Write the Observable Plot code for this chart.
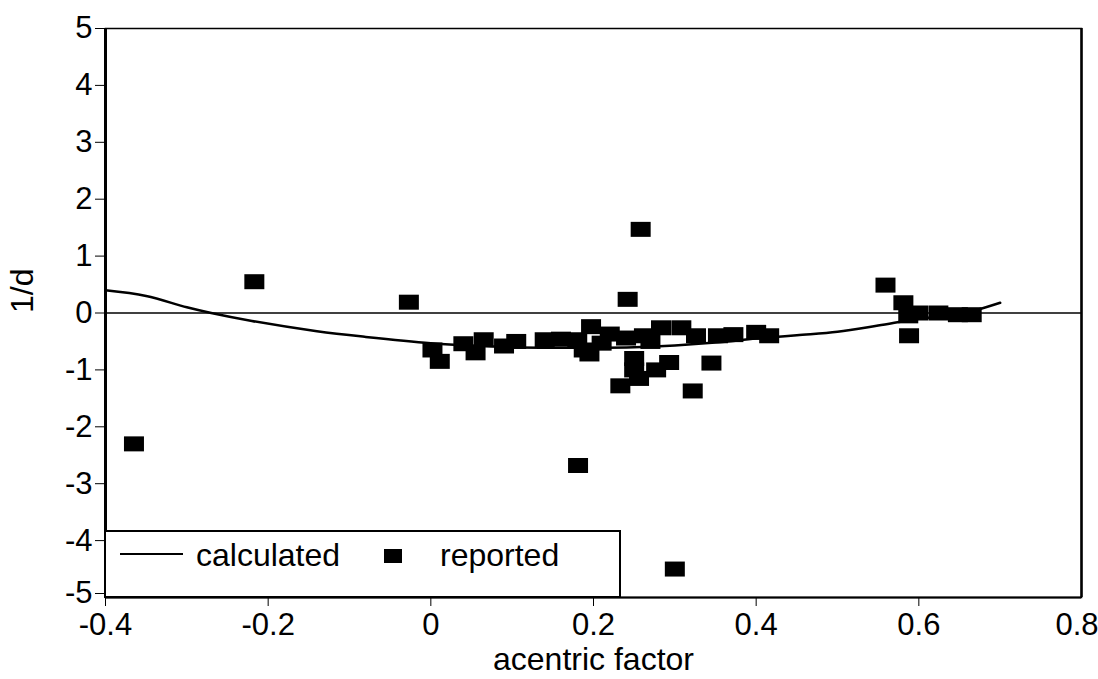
<!DOCTYPE html>
<html>
<head>
<meta charset="utf-8">
<script src="https://cdn.jsdelivr.net/npm/d3@7"></script>
<script src="https://cdn.jsdelivr.net/npm/@observablehq/plot@0.6"></script>
<style>
  html, body { margin: 0; padding: 0; background: #fff; }
  #chart { position: relative; width: 1098px; height: 679px; }
</style>
</head>
<body>
<div id="chart"></div>
<script>
// Data
const xTicks = [-0.4, -0.2, 0, 0.2, 0.4, 0.6, 0.8];
const yTicks = [-5, -4, -3, -2, -1, 0, 1, 2, 3, 4, 5];

const calcX = [-0.4, -0.35, -0.3, -0.27, -0.22, -0.14, -0.08, 0, 0.05, 0.1, 0.15, 0.2, 0.25, 0.3, 0.35, 0.4, 0.45, 0.5, 0.55, 0.6, 0.65, 0.7];
const calcY = [0.4, 0.3, 0.1, 0, -0.14, -0.32, -0.42, -0.53, -0.57, -0.6, -0.61, -0.61, -0.6, -0.57, -0.52, -0.45, -0.39, -0.33, -0.22, -0.1, -0.02, 0.18];

const repX = [-0.365, -0.217, -0.027, 0.002, 0.011, 0.04, 0.055, 0.065, 0.09, 0.105, 0.14, 0.16, 0.181, 0.18, 0.188, 0.195, 0.197, 0.21, 0.22, 0.233, 0.24, 0.242, 0.25, 0.25, 0.256, 0.258, 0.262, 0.27, 0.277, 0.283, 0.293, 0.3, 0.308, 0.322, 0.326, 0.345, 0.353, 0.372, 0.4, 0.416, 0.559, 0.581, 0.587, 0.588, 0.599, 0.624, 0.648, 0.665];
const repY = [-2.3, 0.55, 0.19, -0.65, -0.85, -0.54, -0.7, -0.47, -0.58, -0.5, -0.47, -0.46, -2.68, -0.47, -0.65, -0.72, -0.24, -0.53, -0.37, -1.28, -0.44, 0.24, -0.8, -1.0, -1.15, 1.47, -0.4, -0.5, -1.0, -0.26, -0.87, -4.5, -0.26, -1.37, -0.4, -0.88, -0.4, -0.38, -0.34, -0.4, 0.49, 0.18, -0.05, -0.4, 0.0, 0.0, -0.03, -0.03];

const calculated = calcX.map((x, i) => ({x, y: calcY[i]}));
const reported = repX.map((x, i) => ({x, y: repY[i]}));

// rectangular marker (slightly wider than tall, as in the scan)
const rectSymbol = {
  draw(ctx) { ctx.rect(-10, -7.5, 20, 15); }
};

const fmt = d => String(d);
const FONT = "Liberation Sans, Arial, Helvetica, sans-serif";
const xTicksMain = xTicks.slice(0, -1);
const xTickLast = xTicks.slice(-1);
const yTicksMain = yTicks.slice(1);
const yTickFirst = yTicks.slice(0, 1);

const plot = Plot.plot({
  width: 1098,
  height: 679,
  marginLeft: 105,
  marginRight: 17,
  marginTop: 28,
  marginBottom: 82,
  style: { fontFamily: FONT, fontSize: "31px", background: "#fff", color: "#000" },
  x: { domain: [-0.4, 0.8], label: null },
  y: { domain: [-5, 5], label: null },
  marks: [
    Plot.frame({ stroke: "#000", strokeWidth: 1.5 }),
    Plot.ruleX([-0.4], { stroke: "#000", strokeWidth: 3 }),
    Plot.ruleX([0.8], { stroke: "#000", strokeWidth: 2.5 }),
    Plot.ruleY([-5], { stroke: "#000", strokeWidth: 2 }),
    Plot.ruleY([0], { stroke: "#000", strokeWidth: 1.6 }),
    Plot.axisX({ ticks: xTicksMain, tickFormat: fmt, tickSize: 9, tickPadding: 6, fontSize: 31, label: null }),
    Plot.axisX({ ticks: xTickLast, tickFormat: fmt, tickSize: 9, tickPadding: 6, fontSize: 31, label: null, textAnchor: "end", dx: 17 }),
    Plot.axisY({ ticks: yTicksMain, tickFormat: fmt, tickSize: 10, tickPadding: 3, fontSize: 31, label: null }),
    Plot.axisY({ ticks: yTickFirst, tickFormat: fmt, tickSize: 10, tickPadding: 3, fontSize: 31, label: null, dy: -4 }),
    Plot.line(calculated, { x: "x", y: "y", stroke: "#000", strokeWidth: 2.5, curve: "catmull-rom" }),
    Plot.dot(reported, { x: "x", y: "y", symbol: rectSymbol, fill: "#000", stroke: "none", r: 5 }),
    Plot.text(["acentric factor"], { frameAnchor: "bottom", text: d => d, dy: 72, fontSize: 32, fill: "#000" }),
    Plot.text(["1/d"], { frameAnchor: "left", text: d => d, dx: -83, rotate: -90, fontSize: 32, fill: "#000" })
  ]
});

document.getElementById("chart").appendChild(plot);

// Legend box (drawn inside the SVG at bottom-left of the frame)
const svg = d3.select(plot);
const lg = svg.append("g").attr("font-family", FONT).attr("font-size", 32).attr("text-anchor", "start");
lg.append("rect").attr("x", 105).attr("y", 531).attr("width", 515).attr("height", 66)
  .attr("fill", "#fff").attr("stroke", "#000").attr("stroke-width", 2);
lg.append("line").attr("x1", 120).attr("x2", 183).attr("y1", 554).attr("y2", 554)
  .attr("stroke", "#000").attr("stroke-width", 2);
lg.append("text").attr("x", 196).attr("y", 566).attr("text-anchor", "start").text("calculated");
lg.append("rect").attr("x", 384).attr("y", 549).attr("width", 18).attr("height", 14).attr("fill", "#000");
lg.append("text").attr("x", 440).attr("y", 566).attr("text-anchor", "start").text("reported");
</script>
</body>
</html>
